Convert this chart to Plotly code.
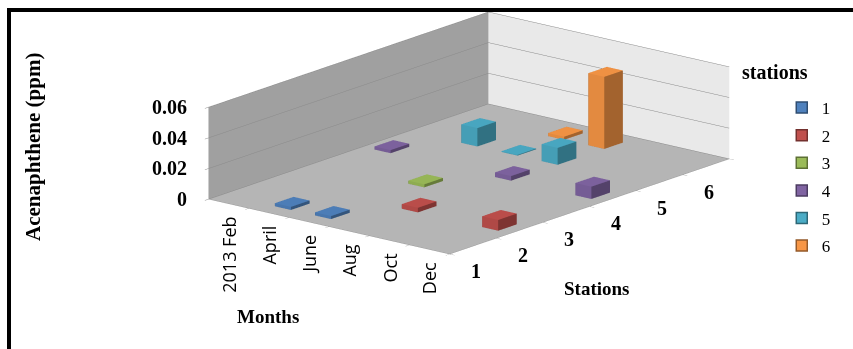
import plotly.graph_objects as go

# ---- data -------------------------------------------------------------
months = ["2013 Feb", "April", "June", "Aug", "Oct", "Dec"]
stations = ["1", "2", "3", "4", "5", "6"]
z_ticks = [0, 0.02, 0.04, 0.06]
z_tick_text = ["0", "0.02", "0.04", "0.06"]

# Acenaphthene (ppm) per station, one value per month
station_1 = [0, 0.002, 0.002, 0, 0, 0]
station_2 = [0, 0, 0, 0.003, 0, 0.007]
station_3 = [0, 0, 0.002, 0, 0, 0]
station_4 = [0.002, 0, 0, 0.003, 0, 0.008]
station_5 = [0, 0.012, 0.0005, 0.011, 0, 0]
station_6 = [0, 0, 0.002, 0.047, 0, 0]
series = [station_1, station_2, station_3, station_4, station_5, station_6]

colors = ["#4F81BD", "#C0504D", "#9BBB59", "#8064A2", "#4BACC6", "#F79646"]

SERIF = "Liberation Serif"
SANS = "Open Sans"
BAR = 0.4  # column footprint as a fraction of one category cell


def shade(hex_color, f):
    h = hex_color.lstrip("#")
    r, g, b = (int(h[k:k + 2], 16) for k in (0, 2, 4))
    return "rgb(%d,%d,%d)" % (min(255, r * f), min(255, g * f), min(255, b * f))


def columns_mesh(values, depth, color):
    """One mesh3d holding every column of a station (depth row)."""
    xs, ys, zs, I, J, K, fc = [], [], [], [], [], [], []
    top, left, right = shade(color, 0.97), shade(color, 0.92), shade(color, 0.66)
    for m, v in enumerate(values):
        if not v:
            continue
        x0, x1 = m + 0.5 - BAR / 2, m + 0.5 + BAR / 2
        y0, y1 = depth + 0.5 - BAR / 2, depth + 0.5 + BAR / 2
        n = len(xs)
        for (x, y, z) in [(x0, y0, 0), (x1, y0, 0), (x1, y1, 0), (x0, y1, 0),
                          (x0, y0, v), (x1, y0, v), (x1, y1, v), (x0, y1, v)]:
            xs.append(x); ys.append(y); zs.append(z)
        faces = [((0, 1, 2), right), ((0, 2, 3), right),      # bottom
                 ((4, 5, 6), top), ((4, 6, 7), top),          # top
                 ((0, 1, 5), left), ((0, 5, 4), left),        # front (-y)
                 ((1, 2, 6), right), ((1, 6, 5), right),      # side (+x)
                 ((3, 2, 6), right), ((3, 6, 7), right),      # back (+y)
                 ((0, 3, 7), right), ((0, 7, 4), right)]      # side (-x)
        for (a, b, c), col in faces:
            I.append(n + a); J.append(n + b); K.append(n + c); fc.append(col)
    return go.Mesh3d(x=xs, y=ys, z=zs, i=I, j=J, k=K, facecolor=fc,
                     flatshading=True, showlegend=False, hoverinfo="skip",
                     lighting=dict(ambient=1, diffuse=0, specular=0,
                                   roughness=1, fresnel=0))


fig = go.Figure()
for d, (vals, col) in enumerate(zip(series, colors)):
    fig.add_trace(columns_mesh(vals, d, col))

# legend entries
for name, col in zip(stations, colors):
    fig.add_trace(go.Scatter(
        x=[None], y=[None], mode="markers", name=name, legendgroup=name,
        marker=dict(symbol="square", size=11, color=col,
                    line=dict(color=shade(col, 0.6), width=1.5))))

axis_common = dict(showticklabels=False, ticks="outside", tickcolor="#8c8c8c",
                   ticklen=6, tickwidth=1, showspikes=False, zeroline=False,
                   showline=True, linecolor="#9a9a9a", linewidth=1,
                   title=dict(text=""), showbackground=True)

scene_ann = []
for m, lab in enumerate(months):
    scene_ann.append(dict(x=m + 0.5, y=0, z=0, text=lab, showarrow=False,
                          textangle=-90, xanchor="center", yanchor="top",
                          yshift=-11, font=dict(family=SANS, size=18, color="black")))
for s, lab in enumerate(stations):
    scene_ann.append(dict(x=6, y=s + 0.5, z=0, text="<b>%s</b>" % lab, showarrow=False,
                          xanchor="center", yanchor="middle", xshift=3, yshift=-25,
                          font=dict(family=SERIF, size=20, color="black")))
for v, lab in zip(z_ticks, z_tick_text):
    scene_ann.append(dict(x=0, y=0, z=v, text="<b>%s</b>" % lab, showarrow=False,
                          xanchor="right", yanchor="middle", xshift=-20,
                          font=dict(family=SERIF, size=20, color="black")))

K_ASPECT = 3.32
d = 3.0
fig.update_layout(
    width=853, height=349, margin=dict(l=0, r=0, t=0, b=0),
    paper_bgcolor="white", plot_bgcolor="rgba(0,0,0,0)",
    xaxis=dict(visible=False), yaxis=dict(visible=False),
    scene=dict(
        domain=dict(x=[0.1, 1.0], y=[0.238, 1.0]),
        xaxis=dict(range=[0, 6], tickvals=[0, 1, 2, 3, 4, 5, 6], showgrid=False,
                   backgroundcolor="#a0a0a0", **axis_common),
        yaxis=dict(range=[0, 6], tickvals=[0, 1, 2, 3, 4, 5, 6], showgrid=False,
                   backgroundcolor="#e9e9e9", **axis_common),
        zaxis=dict(range=[0, 0.06], tickvals=z_ticks, showgrid=True,
                   gridcolor="#8a8a8a", gridwidth=1,
                   backgroundcolor="#b5b5b5", **axis_common),
        aspectmode="manual",
        aspectratio=dict(x=0.705 * K_ASPECT, y=1.0 * K_ASPECT, z=0.217 * K_ASPECT),
        camera=dict(projection=dict(type="orthographic"),
                    eye=dict(x=0.608 * d, y=-0.743 * d, z=0.2785 * d),
                    up=dict(x=0, y=0, z=1), center=dict(x=0, y=0, z=0)),
        annotations=scene_ann,
    ),
    legend=dict(x=0.9165, y=0.742, xanchor="left", yanchor="top",
                font=dict(family=SERIF, size=17, color="black"),
                tracegroupgap=2.5, bgcolor="rgba(0,0,0,0)"),
    annotations=[
        dict(text="<b>Acenaphthene (ppm)</b>", x=33 / 853, y=1 - 147 / 349,
             xref="paper", yref="paper", showarrow=False, textangle=-90,
             xanchor="center", yanchor="middle",
             font=dict(family=SERIF, size=21, color="black")),
        dict(text="<b>Months</b>", x=268 / 853, y=1 - 316 / 349,
             xref="paper", yref="paper", showarrow=False,
             xanchor="center", yanchor="middle",
             font=dict(family=SERIF, size=19, color="black")),
        dict(text="<b>Stations</b>", x=596 / 853, y=1 - 288 / 349,
             xref="paper", yref="paper", showarrow=False,
             xanchor="center", yanchor="middle",
             font=dict(family=SERIF, size=19, color="black")),
        dict(text="<b>stations</b>", x=775 / 853, y=1 - 72 / 349,
             xref="paper", yref="paper", showarrow=False,
             xanchor="center", yanchor="middle",
             font=dict(family=SERIF, size=20, color="black")),
    ],
    shapes=[
        dict(type="line", xref="paper", yref="paper", x0=8 / 853, x1=1,
             y0=1 - 10 / 349, y1=1 - 10 / 349, line=dict(color="black", width=4)),
        dict(type="line", xref="paper", yref="paper", x0=9 / 853, x1=9 / 853,
             y0=1 - 8 / 349, y1=0, line=dict(color="black", width=4)),
    ],
)

fig.write_html("out.html", config={"displayModeBar": False})
